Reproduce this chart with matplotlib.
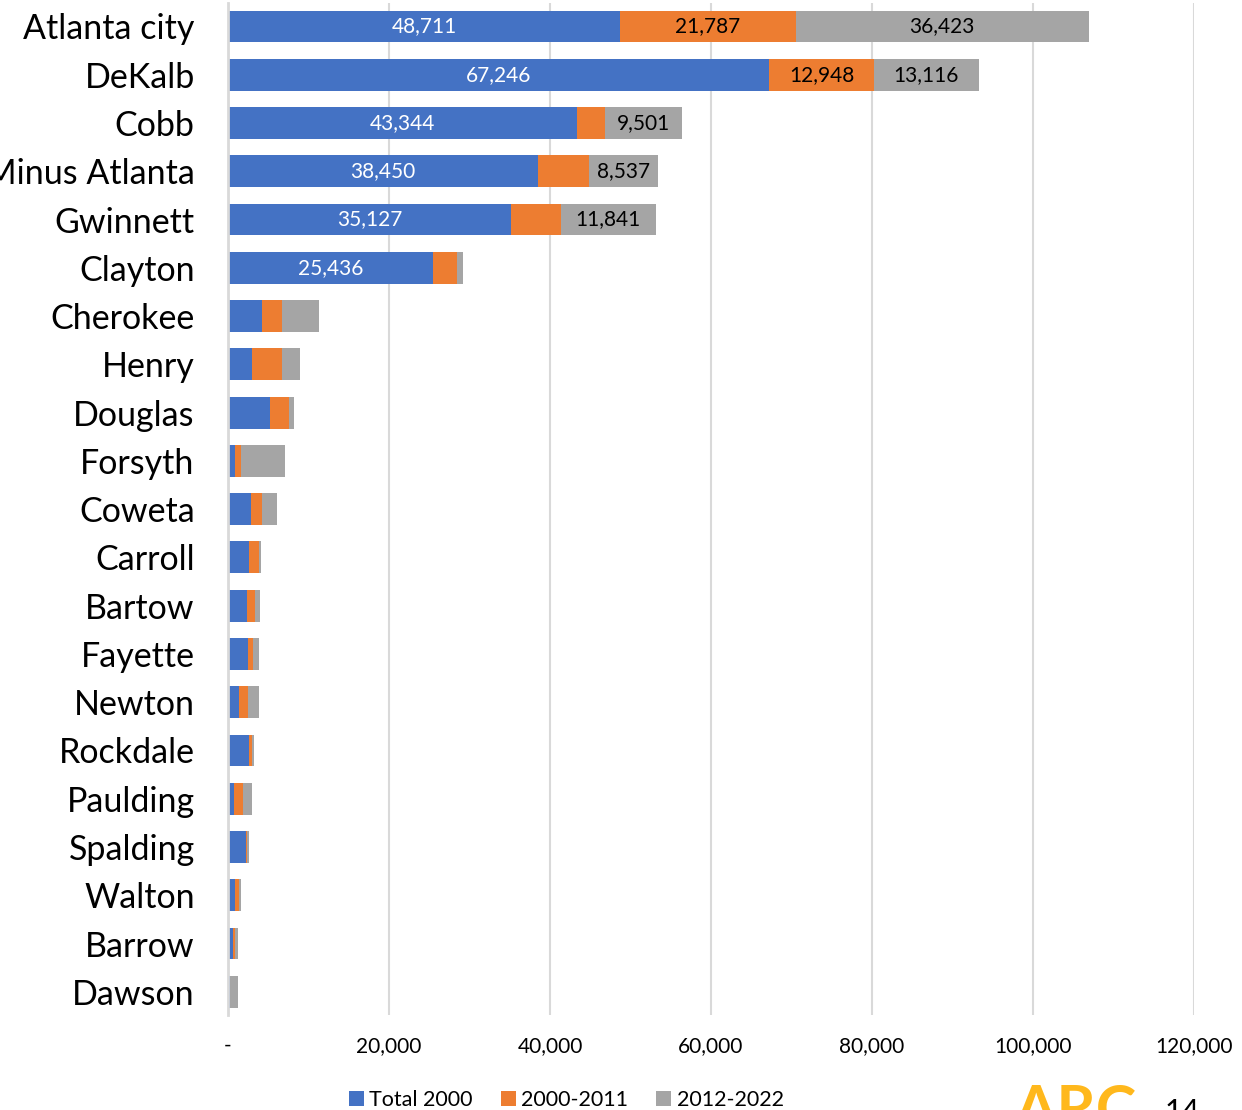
import matplotlib.pyplot as plt
from matplotlib.ticker import FuncFormatter

plt.rcParams['font.family'] = ['Lato', 'DejaVu Sans']

counties = ['Atlanta city', 'DeKalb', 'Cobb', 'Minus Atlanta', 'Gwinnett', 'Clayton',
            'Cherokee', 'Henry', 'Douglas', 'Forsyth', 'Coweta', 'Carroll', 'Bartow',
            'Fayette', 'Newton', 'Rockdale', 'Paulding', 'Spalding', 'Walton', 'Barrow',
            'Dawson']
total_2000 = [48711, 67246, 43344, 38450, 35127, 25436, 4230, 3020, 5220, 870, 2860,
              2570, 2360, 2480, 1370, 2650, 750, 2190, 910, 660, 200]
chg_2000_2011 = [21787, 12948, 3500, 6450, 6200, 3000, 2490, 3690, 2360, 790, 1370,
                 1330, 1030, 660, 1080, 330, 1160, 170, 460, 250, 30]
chg_2012_2022 = [36423, 13116, 9501, 8537, 11841, 750, 4600, 2270, 580, 5430, 1900,
                 170, 580, 750, 1400, 290, 1040, 210, 250, 370, 1000]

# which segments carry a value label
label_blue = 6
label_orange = 2
label_gray = 5

blue = '#4472C4'
orange = '#ED7D31'
gray = '#A5A5A5'

fig = plt.figure(figsize=(12.42, 11.1), dpi=100)
ax = fig.add_axes([0.1836, 0.0856, 0.7778, 0.9114])

y = list(range(len(counties)))
left2 = total_2000
left3 = [a + b for a, b in zip(total_2000, chg_2000_2011)]
h = 0.66
b1 = ax.barh(y, total_2000, height=h, color=blue, label='Total 2000', zorder=3)
b2 = ax.barh(y, chg_2000_2011, left=left2, height=h, color=orange, label='2000-2011', zorder=3)
b3 = ax.barh(y, chg_2012_2022, left=left3, height=h, color=gray, label='2012-2022', zorder=3)

fmt = lambda v: f'{v:,}'
for i in range(label_blue):
    ax.text(total_2000[i] / 2, i, fmt(total_2000[i]), ha='center', va='center',
            color='white', fontsize=15, zorder=4)
for i in range(label_orange):
    ax.text(left2[i] + chg_2000_2011[i] / 2, i, fmt(chg_2000_2011[i]), ha='center',
            va='center', color='black', fontsize=15, zorder=4)
for i in range(label_gray):
    ax.text(left3[i] + chg_2012_2022[i] / 2, i, fmt(chg_2012_2022[i]), ha='center',
            va='center', color='black', fontsize=15, zorder=4)

ax.set_xlim(0, 120000)
ax.set_ylim(len(counties) - 0.52, -0.48)
ax.set_xticks(range(0, 120001, 20000))
ax.xaxis.set_major_formatter(FuncFormatter(lambda v, p: '-' if v == 0 else f'{int(v):,}'))
ax.set_yticks(y)
ax.set_yticklabels(counties, fontsize=24.5)
ax.tick_params(axis='y', length=0, pad=24)
ax.tick_params(axis='x', length=0, pad=15, labelsize=15)
ax.grid(axis='x', color='#D9D9D9', linewidth=1.5, zorder=0)
for s in ['top', 'right', 'bottom']:
    ax.spines[s].set_visible(False)
ax.spines['left'].set_color('#D9D9D9')
ax.spines['left'].set_linewidth(2)
ax.spines['left'].set_zorder(5)

fig.legend(handles=[b1, b2, b3], loc='center', bbox_to_anchor=(0.456, 0.009),
           ncol=3, frameon=False, fontsize=15.5, handlelength=0.7, handleheight=0.7,
           handletextpad=0.25, columnspacing=1.3)

# logo fragment and page number at the lower right
fig.text(0.817, 0.024, 'ARC', color='#FFB81C', fontsize=44, fontweight='bold',
         ha='left', va='top')
fig.text(0.938, 0.011, '14', color='black', fontsize=22, ha='left', va='top')

fig.savefig('out.png', dpi=100)
